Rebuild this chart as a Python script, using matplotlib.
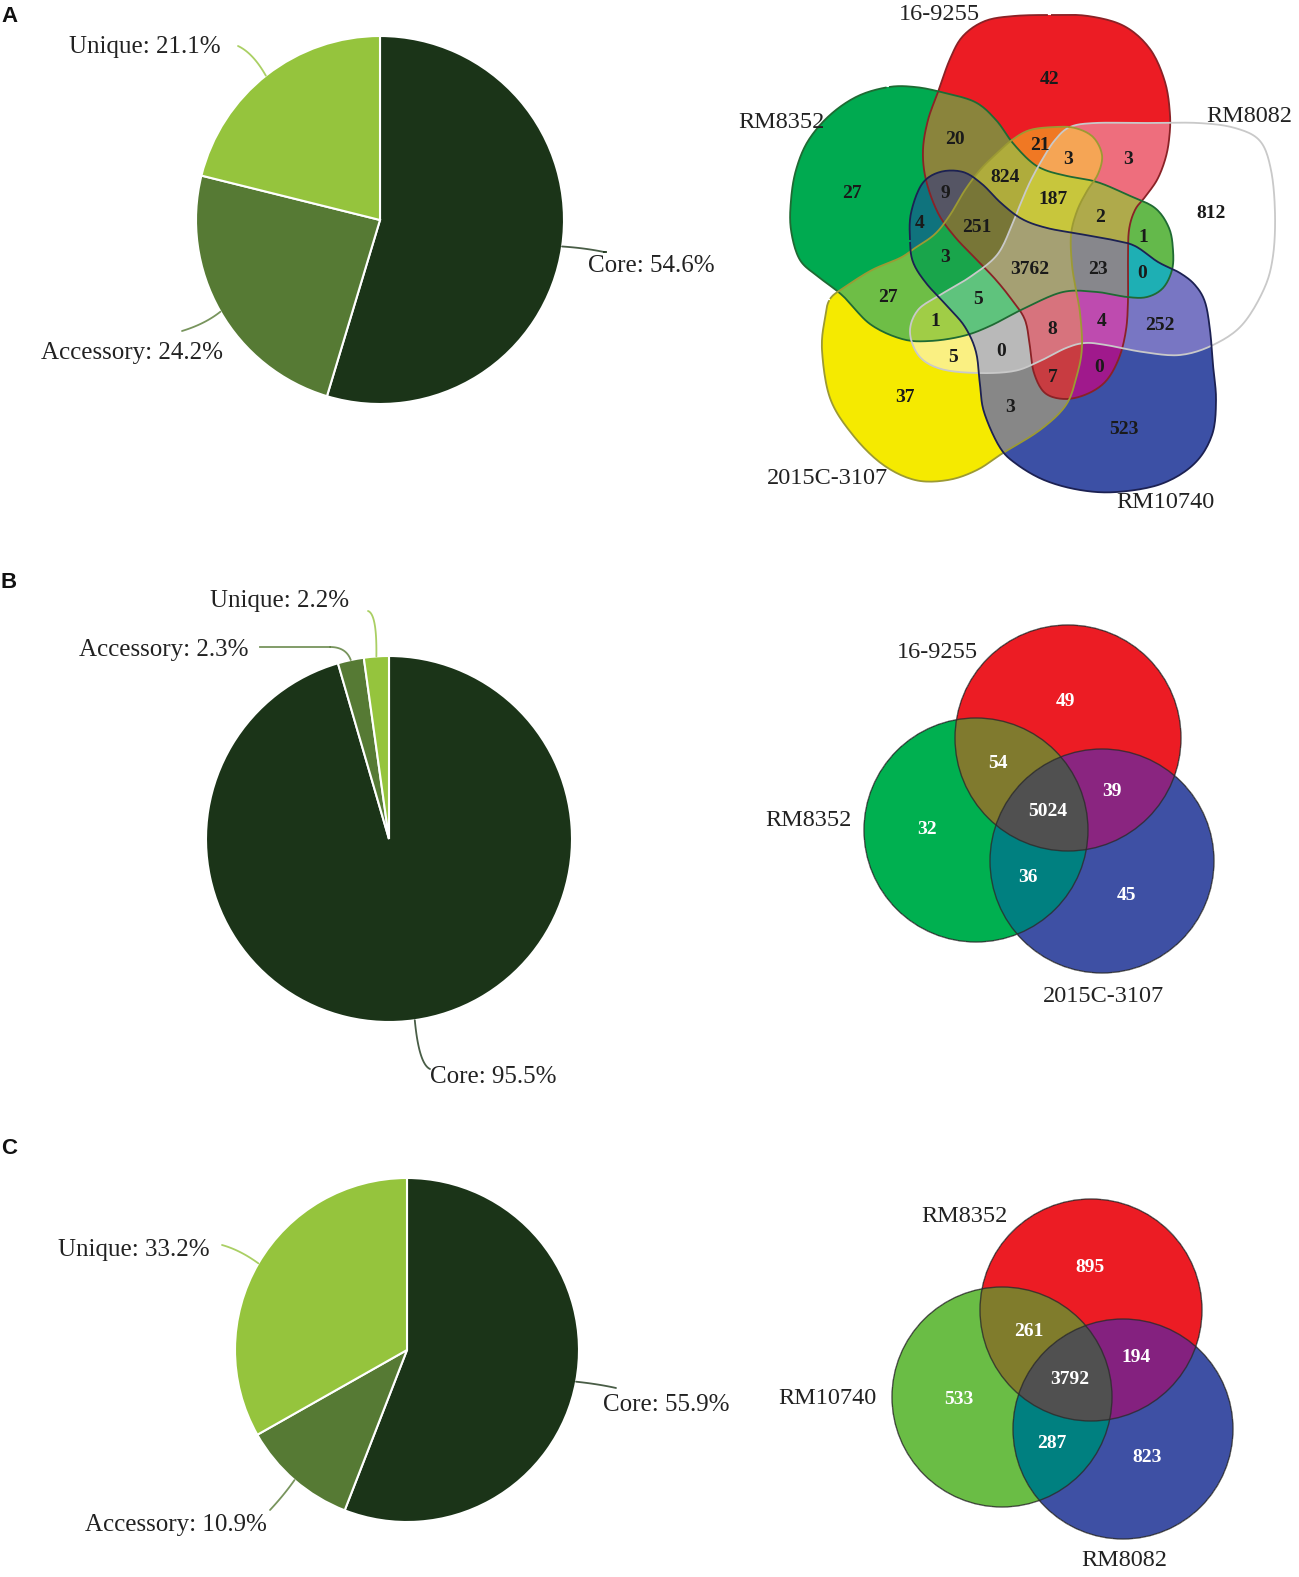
import numpy as np
import matplotlib
matplotlib.use("Agg")
import matplotlib.pyplot as plt
from matplotlib.path import Path
from matplotlib.patches import PathPatch, Circle

# ---------------- data ----------------
pie_labels = ["Core", "Accessory", "Unique"]
pie_a = [54.6, 24.2, 21.1]
pie_b = [95.5, 2.3, 2.2]
pie_c = [55.9, 10.9, 33.2]
pie_colors = ["#1b3418", "#567a34", "#95c43d"]

venn5_sets = ["16-9255", "RM8352", "RM8082", "2015C-3107", "RM10740"]
venn5_counts = [42, 20, 21, 3, 3, 824, 187, 9, 4, 251, 2, 1, 3, 3762, 23, 0,
                27, 27, 5, 1, 8, 4, 252, 5, 0, 7, 0, 37, 3, 523, 812]

venn_b_sets = ["16-9255", "RM8352", "2015C-3107"]
venn_b_counts = [49, 54, 39, 5024, 32, 36, 45]

venn_c_sets = ["RM8352", "RM10740", "RM8082"]
venn_c_counts = [895, 261, 194, 3792, 533, 287, 823]

# ---------------- layout ----------------
W, H = 1299, 1577
serif = "Liberation Serif"

fig = plt.figure(figsize=(W / 100, H / 100), dpi=100)
ax = fig.add_axes([0, 0, 1, 1])


def draw_pie(vals, center, r, label_pos, leader_ctrl, leader_end):
    ax.pie(vals, colors=pie_colors, startangle=-90, counterclock=True,
           center=center, radius=r, frame=True,
           wedgeprops=dict(edgecolor="white", linewidth=1.5))
    cum = np.cumsum([0] + list(vals))
    for i, name in enumerate(pie_labels):
        mid = (cum[i] + cum[i + 1]) / 2 / 100 * 2 * np.pi
        sx, sy = center[0] + r * np.sin(mid), center[1] - r * np.cos(mid)
        cx, cy = leader_ctrl[i]
        ex, ey = leader_end[i]
        t = np.linspace(0, 1, 30)
        bx = (1 - t) ** 2 * sx + 2 * (1 - t) * t * cx + t ** 2 * ex
        by = (1 - t) ** 2 * sy + 2 * (1 - t) * t * cy + t ** 2 * ey
        ax.plot(bx, by, color=pie_colors[i], lw=1.3, alpha=0.8,
                solid_capstyle="round")
        ax.text(label_pos[i][0], label_pos[i][1],
                f"{name}: {vals[i]}%", family=serif, fontsize=18,
                ha="left", va="center", color="#222222")


draw_pie(pie_a, (380, 220), 184,
         [(588, 266), (41, 353), (69, 47)],
         [(585, 248), (205, 324), (253, 53)],
         [(604, 252), (182, 331), (238, 46)])
ax.plot([604, 606], [252, 252], color=pie_colors[0], lw=1.3)
draw_pie(pie_b, (389, 839), 183,
         [(430, 1077), (79, 650), (210, 601)],
         [(419, 1064), (346, 647), (377, 614)],
         [(430, 1069), (330, 647), (368, 611)])
ax.plot([330, 260], [647, 647], color=pie_colors[1], lw=1.3, alpha=0.8)
draw_pie(pie_c, (407, 1350), 172,
         [(603, 1405), (85, 1525), (58, 1250)],
         [(598, 1384), (284, 1495), (240, 1250)],
         [(616, 1388), (270, 1510), (222, 1245)])


# ---------------- 5-set Venn outlines (pixel coords) ----------------
def smooth(pts, n=12):
    p = np.asarray(pts, float)
    m = len(p)
    t = np.linspace(0, 1, n, endpoint=False)[:, None]
    out = []
    for i in range(m):
        p0, p1, p2, p3 = p[i - 1], p[i], p[(i + 1) % m], p[(i + 2) % m]
        out.append(0.5 * (2 * p1 + (-p0 + p2) * t
                          + (2 * p0 - 5 * p1 + 4 * p2 - p3) * t ** 2
                          + (-p0 + 3 * p1 - 3 * p2 + p3) * t ** 3))
    return np.vstack(out)


red_outline = [(1051, 15), (1088, 16), (1124, 26), (1150, 49), (1165, 82),
               (1170, 115), (1169, 140), (1165, 160), (1157, 180), (1145, 197),
               (1135, 210), (1129, 230), (1128, 260), (1128, 300), (1126, 330),
               (1119, 358), (1106, 381), (1087, 394), (1065, 399), (1045, 393),
               (1034, 373), (1030, 347), (1025, 320), (1012, 300), (996, 280),
               (977, 260), (955, 237), (938, 213), (926, 180), (923, 150),
               (928, 120), (938, 92), (950, 59), (963, 36), (985, 21), (1014, 16)]
green_outline = [(889, 87), (915, 87), (941, 92), (975, 102), (996, 120),
                 (1012, 142), (1030, 161), (1045, 170), (1067, 176), (1097, 182),
                 (1128, 195), (1155, 208), (1169, 228), (1173, 250), (1172, 270),
                 (1163, 288), (1147, 297), (1127, 297), (1097, 292), (1063, 292),
                 (1025, 308), (990, 326), (963, 336), (930, 341), (902, 339),
                 (870, 324), (843, 296), (820, 278), (800, 260), (791, 230),
                 (791, 200), (796, 170), (808, 141), (830, 115), (858, 96)]
white_outline = [(1070, 127), (1095, 123), (1143, 123), (1198, 123), (1235, 128),
                 (1260, 141), (1271, 170), (1275, 213), (1273, 256), (1264, 289),
                 (1242, 325), (1213, 345), (1180, 355), (1143, 352), (1106, 345),
                 (1085, 343), (1066, 348), (1040, 361), (1014, 371), (977, 373),
                 (941, 369), (919, 356), (910, 332), (918, 310), (940, 295),
                 (970, 277), (997, 255), (1012, 225), (1020, 205), (1030, 182),
                 (1042, 160), (1055, 140)]
yellow_outline = [(830, 299), (845, 287), (872, 270), (900, 258), (915, 248),
                  (935, 234), (950, 215), (965, 190), (980, 170), (995, 155),
                  (1012, 140), (1030, 130), (1055, 127), (1075, 128), (1093, 137),
                  (1102, 155), (1098, 174), (1087, 191), (1077, 211), (1071, 235),
                  (1072, 265), (1076, 290), (1080, 313), (1082, 347), (1077, 375),
                  (1066, 405), (1040, 430), (1003, 453), (977, 470), (948, 480),
                  (915, 480), (882, 464), (852, 434), (830, 398), (822, 350),
                  (825, 318)]
blue_outline = [(910, 240), (911, 213), (922, 184), (940, 172), (963, 172),
                (982, 184), (1001, 203), (1022, 219), (1047, 228), (1080, 234),
                (1113, 240), (1135, 246), (1158, 262), (1180, 273), (1195, 285),
                (1205, 302), (1210, 330), (1213, 365), (1216, 400), (1212, 435),
                (1194, 464), (1161, 484), (1117, 492), (1080, 490), (1044, 480),
                (1015, 463), (999, 446), (984, 412), (980, 385), (976, 352),
                (965, 327), (948, 307), (926, 283), (913, 262)]

venn5_outlines = [red_outline, green_outline, white_outline, yellow_outline,
                  blue_outline]
venn5_fill = [(236, 28, 36), (0, 170, 80), (255, 255, 255), (245, 234, 0),
              (60, 80, 165)]
venn5_edge = ["#8a2226", "#1f6a33", "#c9c9c9", "#9c9a33", "#1c2152"]
# region colours keyed by member sets (0 red, 1 green, 2 white, 3 yellow, 4 blue)
venn5_mix = {
    (0, 1): (138, 132, 60), (0, 3): (240, 120, 35), (0, 2, 3): (245, 165, 85),
    (0, 2): (238, 110, 125), (0, 1, 3): (175, 172, 60),
    (0, 1, 2, 3): (200, 198, 60), (0, 1, 4): (85, 85, 100),
    (1, 4): (15, 115, 125), (0, 1, 3, 4): (120, 118, 55),
    (0, 1, 2): (175, 170, 75), (1, 2): (100, 185, 75),
    (1, 3, 4): (25, 165, 75), (0, 1, 2, 3, 4): (165, 160, 115),
    (0, 1, 2, 4): (135, 135, 140), (1, 2, 4): (30, 175, 180),
    (1, 3): (110, 190, 70), (1, 2, 3, 4): (95, 195, 125),
    (1, 2, 3): (160, 205, 70), (0, 2, 3, 4): (215, 115, 125),
    (0, 2, 4): (190, 75, 175), (2, 4): (120, 118, 195),
    (2, 3): (250, 240, 130), (2, 3, 4): (185, 185, 185),
    (0, 3, 4): (200, 60, 65), (0, 4): (160, 25, 140), (3, 4): (135, 135, 135),
}

venn5_label_xy = [(1050, 80), (955, 140), (1040, 145), (1068, 160), (1128, 160),
                  (1005, 178), (1053, 199), (945, 193), (920, 223), (977, 228),
                  (1100, 217), (1143, 237), (945, 258), (1030, 270), (1098, 270),
                  (1142, 273), (852, 194), (888, 297), (978, 300), (935, 322),
                  (1052, 330), (1102, 322), (1160, 325), (953, 357), (1001, 352),
                  (1053, 378), (1099, 368), (905, 398), (1010, 407), (1124, 429),
                  (1211, 214)]
venn5_name_xy = [(939, 14), (781, 122), (1249, 117), (828, 479), (1165, 502)]


def blend(paths, fills, mix, box):
    x0, y0, x1, y1 = box
    xs = np.arange(x0, x1) + 0.5
    ys = np.arange(y0, y1) + 0.5
    X, Y = np.meshgrid(xs, ys)
    pts = np.column_stack([X.ravel(), Y.ravel()])
    code = np.zeros(X.shape, dtype=int)
    for k, p in enumerate(paths):
        code |= p.contains_points(pts).reshape(X.shape).astype(int) << k
    img = np.zeros(X.shape + (4,))
    for c in np.unique(code):
        if c == 0:
            continue
        members = tuple(k for k in range(len(paths)) if c >> k & 1)
        if len(members) == 1:
            col = fills[members[0]]
        else:
            col = mix.get(members, np.mean([fills[k] for k in members], axis=0))
        img[code == c, :3] = np.array(col) / 255.0
        img[code == c, 3] = 1.0
    ax.imshow(img, extent=(x0, x1, y1, y0), origin="upper",
              interpolation="nearest", zorder=2)


paths5 = [Path(smooth(o)) for o in venn5_outlines]
blend(paths5, venn5_fill, venn5_mix, (780, 5, 1285, 500))
for p, ec in zip(paths5, venn5_edge):
    ax.add_patch(PathPatch(p, facecolor="none", edgecolor=ec, lw=1.3, zorder=3))
for v, (x, y) in zip(venn5_counts, venn5_label_xy):
    ax.text(x, y, str(v), family=serif, fontsize=14, fontweight="bold",
            ha="center", va="center", color="#1a1a1a", zorder=5)
for name, (x, y) in zip(venn5_sets, venn5_name_xy):
    ax.text(x, y, name, family=serif, fontsize=17.5, ha="center", va="center",
            color="#222222", zorder=5)


# ---------------- 3-set Venns ----------------
def venn3(circles, fills, mix, names, name_xy, counts, count_xy):
    paths = [Path.circle(c, r) for c, r in circles]
    xs = [c[0] for c, r in circles]
    ys = [c[1] for c, r in circles]
    box = (int(min(xs) - 120), int(min(ys) - 120),
           int(max(xs) + 120), int(max(ys) + 120))
    blend(paths, fills, mix, box)
    for c, r in circles:
        ax.add_patch(Circle(c, r, facecolor="none", edgecolor="#2b2b2b",
                            lw=1.0, alpha=0.8, zorder=3))
    for v, (x, y) in zip(counts, count_xy):
        ax.text(x, y, str(v), family=serif, fontsize=14, fontweight="bold",
                ha="center", va="center", color="white", zorder=5)
    for name, (x, y) in zip(names, name_xy):
        ax.text(x, y, name, family=serif, fontsize=17.5, ha="center",
                va="center", color="#222222", zorder=5)


venn3([((1068, 738), 113), ((976, 830), 112), ((1102, 861), 112)],
      [(236, 28, 36), (0, 176, 80), (62, 80, 164)],
      {(0, 1): (128, 122, 46), (0, 2): (138, 37, 128), (1, 2): (0, 128, 128),
       (0, 1, 2): (80, 80, 80)},
      venn_b_sets, [(937, 652), (808, 821), (1104, 996)],
      venn_b_counts,
      [(1066, 702), (998, 764), (1112, 791), (1048, 812), (927, 830),
       (1028, 877), (1127, 896)])

venn3([((1091, 1310), 111), ((1002, 1397), 110), ((1123, 1429), 110)],
      [(236, 28, 36), (106, 189, 69), (62, 80, 164)],
      {(0, 1): (128, 124, 44), (0, 2): (132, 33, 127), (1, 2): (0, 128, 128),
       (0, 1, 2): (80, 80, 80)},
      venn_c_sets, [(964, 1217), (827, 1398), (1124, 1560)],
      venn_c_counts,
      [(1090, 1267), (1029, 1331), (1136, 1358), (1070, 1379), (959, 1399),
       (1052, 1444), (1147, 1457)])

# panel letters
for letter, y in zip("ABC", [17, 582, 1148]):
    ax.text(1, y, letter, family="Liberation Sans", fontsize=16,
            fontweight="bold", ha="left", va="center", color="#111111")

ax.set_xlim(0, W)
ax.set_ylim(H, 0)
ax.set_aspect("auto")
ax.axis("off")
fig.savefig("out.png", dpi=100)
